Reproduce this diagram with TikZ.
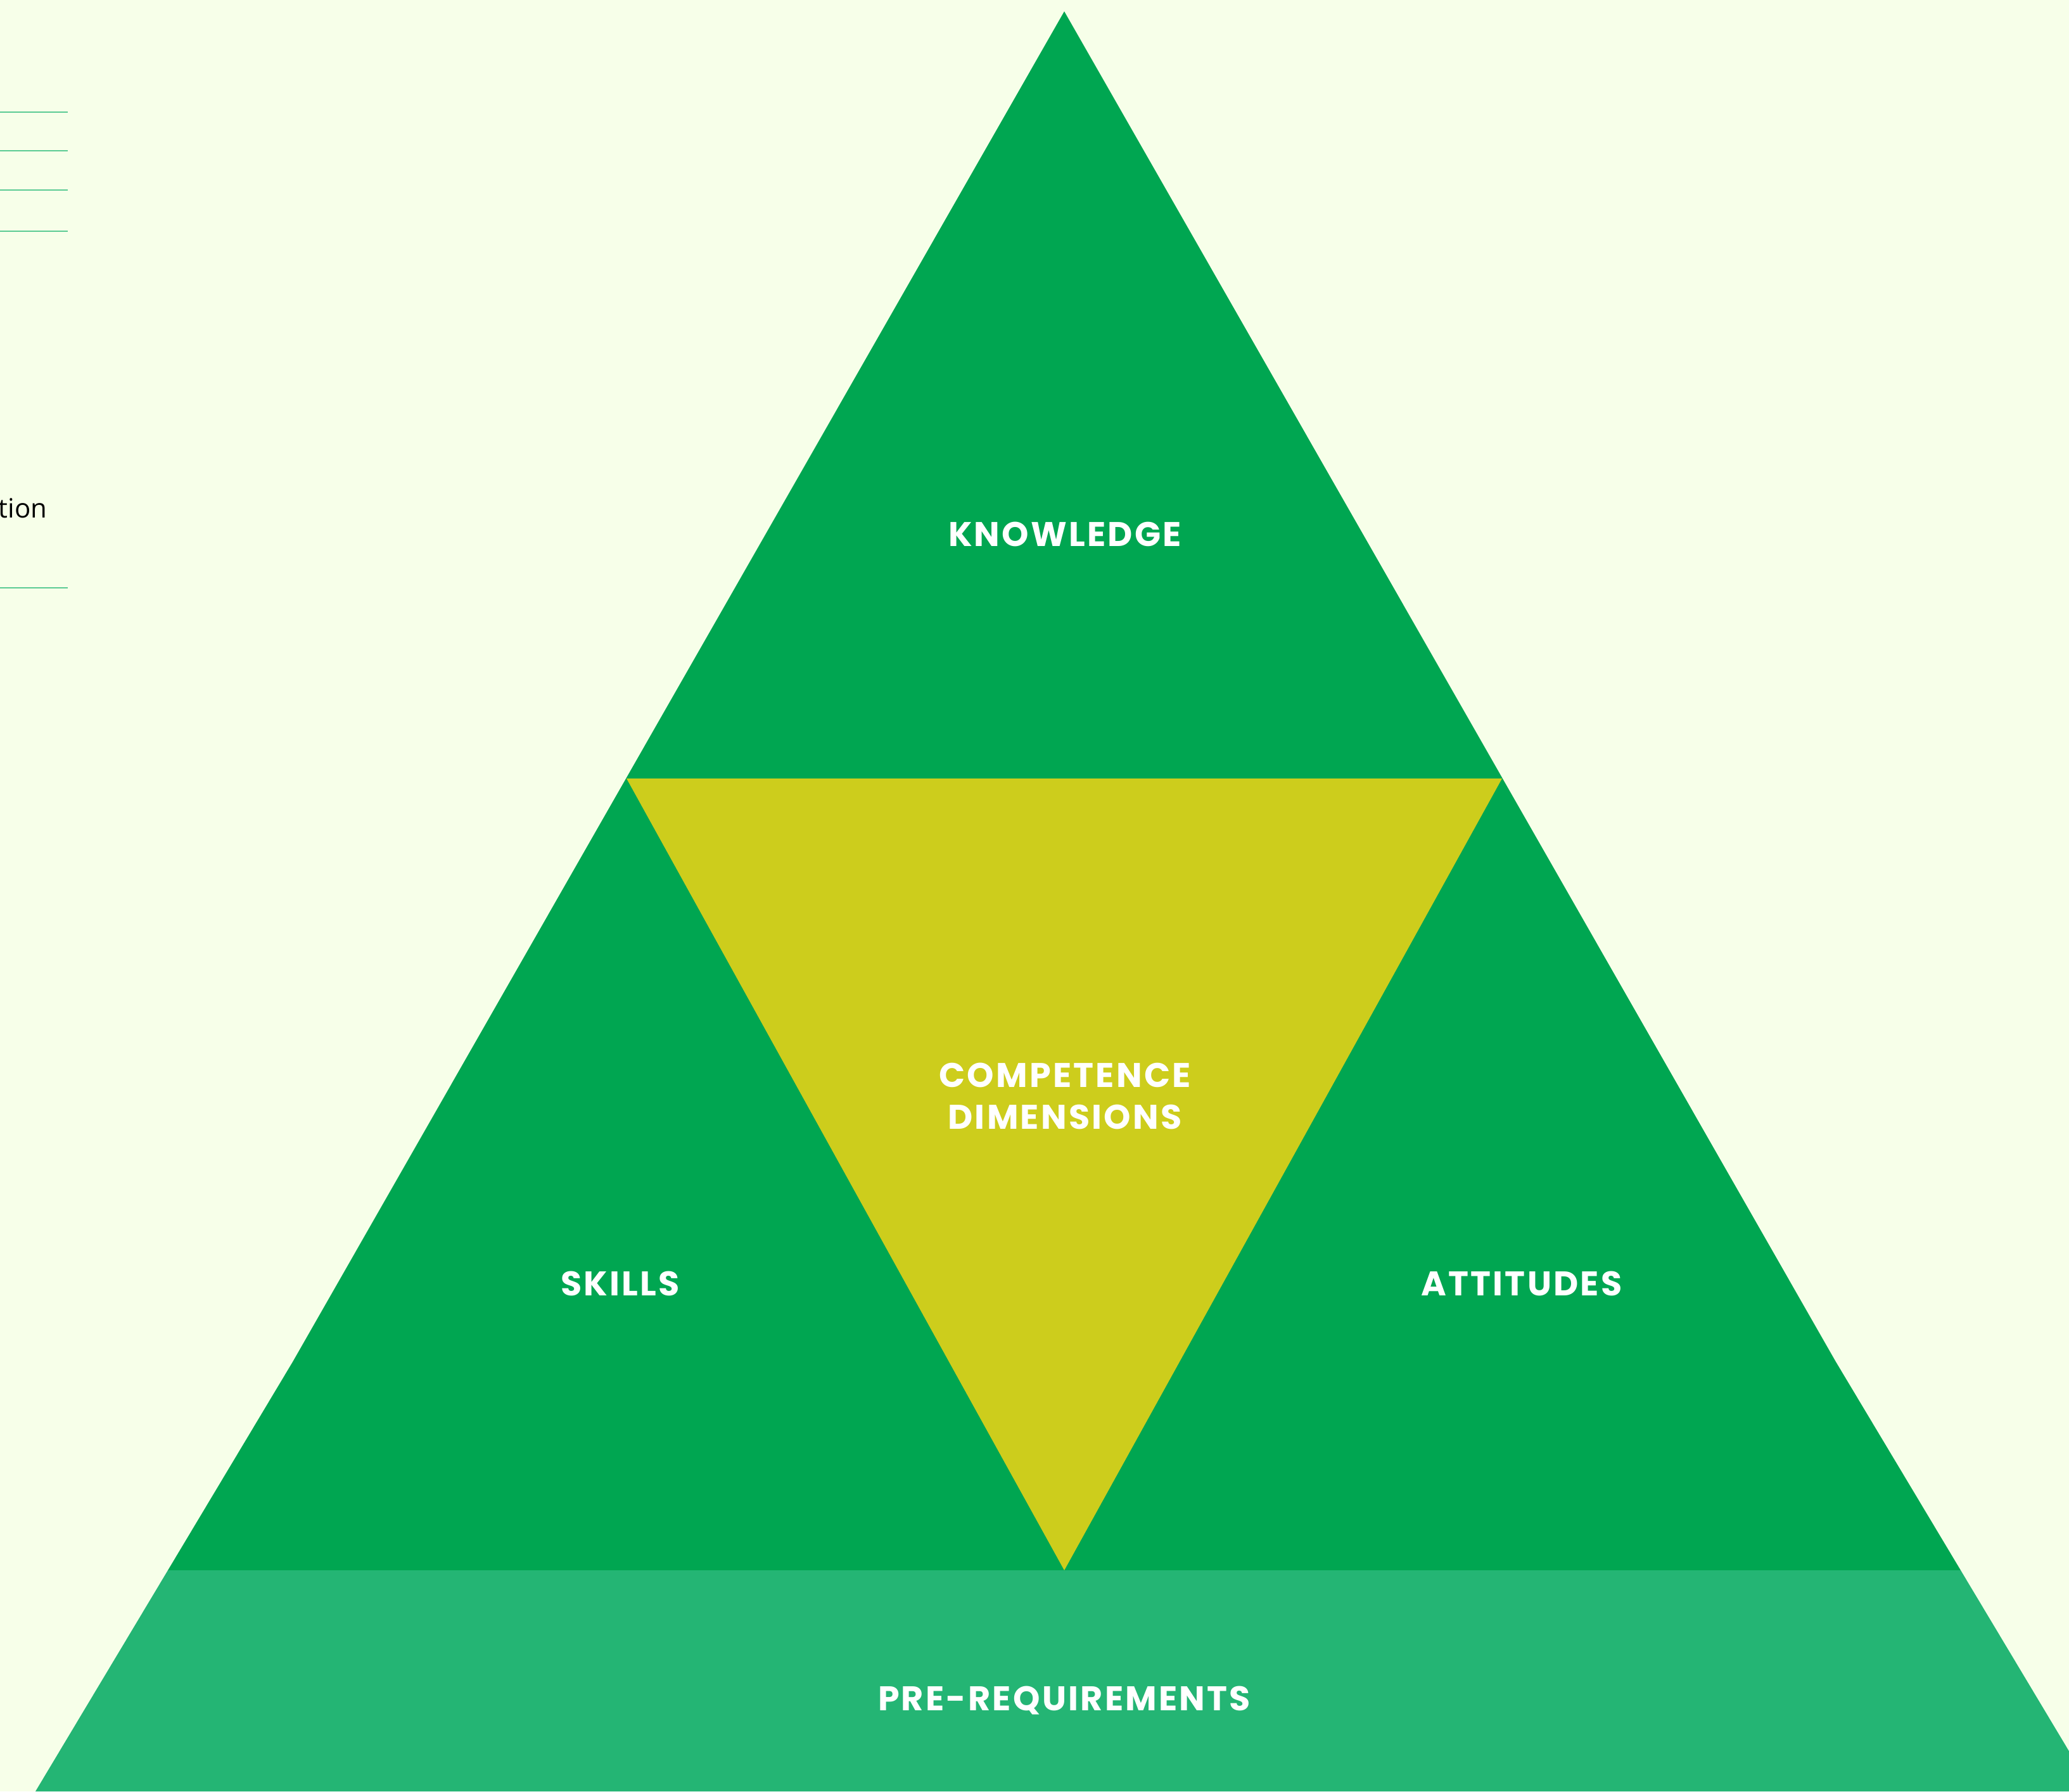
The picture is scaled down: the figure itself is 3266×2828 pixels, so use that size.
\documentclass[tikz,border=0pt]{standalone}
\usepackage{fontspec}
\newfontfamily\labfont{Poppins}[LetterSpace=6]
\newfontfamily\txtfont{Open Sans}
\definecolor{bgc}{HTML}{F7FFE9}
\definecolor{gmain}{HTML}{00A651}
\definecolor{glight}{HTML}{24B574}
\definecolor{ycol}{HTML}{CDCD1C}
\definecolor{lcol}{HTML}{5BCB94}
\tikzset{
  lab/.style={text=white, font=\labfont\bfseries\fontsize{13.5}{16.5}\selectfont, inner sep=0pt, anchor=base, align=center},
  rule/.style={draw=lcol, line width=0.5pt},
}
\begin{document}
\begin{tikzpicture}[x=0.25pt,y=-0.25pt]
\useasboundingbox (0,0) rectangle (3266,2828);
\fill[bgc] (0,0) rectangle (3266,2828);
\begin{scope}
\clip (0,0) rectangle (3266,2828);
% main green body
\fill[gmain] (1680,18) -- (2898,2150) -- (3095,2479) -- (265,2479) -- (462,2150) -- cycle;
% bottom band
\fill[glight] (265,2479) -- (3095,2479) -- (3304,2828) -- (56,2828) -- cycle;
% inverted yellow triangle
\fill[ycol] (989,1229) -- (2371,1229) -- (1680,2479) -- cycle;
\end{scope}
% left rules
\coordinate (r1a) at (0,177); \coordinate (r1b) at (107,177);
\coordinate (r2a) at (0,238); \coordinate (r2b) at (107,238);
\coordinate (r3a) at (0,300); \coordinate (r3b) at (107,300);
\coordinate (r4a) at (0,365); \coordinate (r4b) at (107,365);
\coordinate (r5a) at (0,928); \coordinate (r5b) at (107,928);
\draw[rule] (r1a) -- (r1b);
\draw[rule] (r2a) -- (r2b);
\draw[rule] (r3a) -- (r3b);
\draw[rule] (r4a) -- (r4b);
\draw[rule] (r5a) -- (r5b);
\node[anchor=base east, inner sep=0pt, font=\txtfont\fontsize{10.5}{12}\selectfont] (ation) at (75,817) {ation};
% labels
\node[lab] (know) at (1681,862) {KNOWLEDGE};
\node[lab] (comp) at (1681,1716) {COMPETENCE};
\node[lab] (dims) at (1681,1782) {DIMENSIONS};
\node[lab] (skills) at (979,2045) {SKILLS};
\node[lab] (att) at (2402,2045) {ATTITUDES};
\node[lab] (prereq) at (1680,2700) {PRE-REQUIREMENTS};
\end{tikzpicture}
\end{document}
